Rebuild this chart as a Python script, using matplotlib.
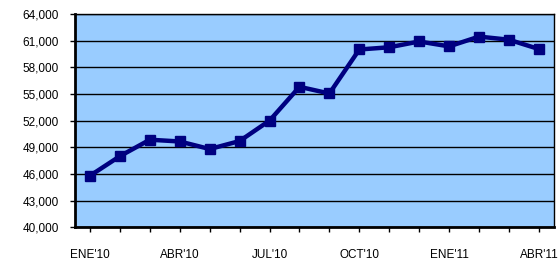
import matplotlib
matplotlib.use("Agg")
import matplotlib.pyplot as plt
from matplotlib.ticker import FuncFormatter

months = ["ENE'10", "FEB'10", "MAR'10", "ABR'10", "MAY'10", "JUN'10", "JUL'10", "AGO'10",
          "SEP'10", "OCT'10", "NOV'10", "DIC'10", "ENE'11", "FEB'11", "MAR'11", "ABR'11"]
values = [45800, 48000, 49850, 49650, 48800, 49700, 52000, 55800,
          55050, 60000, 60250, 60900, 60350, 61450, 61100, 60050]
label_every = 3

plt.rcParams["font.family"] = ["Liberation Sans", "DejaVu Sans"]

fig = plt.figure(figsize=(5.6, 2.68), dpi=100)
ax = fig.add_axes([0.134, 0.152, 0.855, 0.796])
ax.set_facecolor("#99CCFF")

x = list(range(len(values)))
ax.plot(x, values, color="#000080", linewidth=3.2, marker="s", markersize=7.5, zorder=3)

ax.set_xlim(-0.5, len(values) - 0.5)
ax.set_ylim(40000, 64000)
ax.set_yticks(range(40000, 64001, 3000))
ax.yaxis.set_major_formatter(FuncFormatter(lambda v, p: f"{int(v):,}"))
ax.grid(axis="y", color="black", linewidth=1.0)
ax.set_axisbelow(True)

ax.set_xticks(x)
ax.set_xticklabels([m if i % label_every == 0 else "" for i, m in enumerate(months)])
ax.tick_params(axis="x", length=3.5, width=1, pad=12, labelsize=8.5, colors="black")
ax.tick_params(axis="y", length=3.5, width=1, pad=8, labelsize=8.5, colors="black")

for side in ["left", "bottom"]:
    ax.spines[side].set_linewidth(2)
for side in ["top", "right"]:
    ax.spines[side].set_linewidth(1)

fig.savefig("out.png", dpi=100)
